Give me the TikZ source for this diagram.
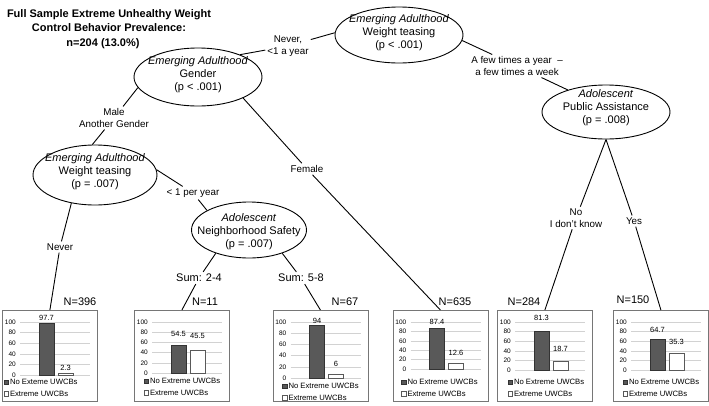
\documentclass[tikz,border=0pt]{standalone}
\usepackage{fontspec}
\setmainfont{Liberation Sans}
\usetikzlibrary{shapes.geometric}
\definecolor{bardark}{RGB}{89,89,89}
\definecolor{boxline}{RGB}{118,118,118}
\definecolor{gridc}{RGB}{210,210,210}
\tikzset{
 ell/.style={draw, ellipse, line width=0.9pt, inner sep=0pt},
 etext/.style={align=center, font=\fontsize{11}{13}\selectfont, inner sep=0pt},
 lbl/.style={align=center, font=\fontsize{9.8}{11.5}\selectfont, inner sep=2pt},
 biglbl/.style={font=\fontsize{11}{13}\selectfont, inner sep=2pt},
 titlestyle/.style={align=center, font=\bfseries\fontsize{11}{14.5}\selectfont, inner sep=0pt},
 conn/.style={line width=0.9pt},
 cbox/.style={draw=boxline, line width=0.8pt, minimum width=95pt, minimum height=91pt, inner sep=0pt},
 gridl/.style={draw=gridc, line width=0.5pt},
 axl/.style={font=\fontsize{6.5}{7}\selectfont, anchor=east, inner sep=0pt},
 vall/.style={font=\fontsize{7.5}{8}\selectfont, inner sep=0pt},
 legt/.style={font=\fontsize{7.7}{9}\selectfont, anchor=west, inner sep=0pt},
 bar1/.style={fill=bardark, draw=black!80, line width=0.6pt},
 bar2/.style={fill=white, draw=bardark, line width=0.6pt},
}
% #1 name, #2 left x, #3 zero-line y, #4 legend y, #5 legend text, #6 legend x offset
\newcommand\mkchart[6]{%
 \begin{scope}[shift={(#2,0)}]
  \node[cbox, anchor=north west] (#1) at (0,310) {};
  \foreach \v in {0,20,...,100}{
    \draw[gridl] (18,{#3-(#3-322)*\v/100}) -- (88,{#3-(#3-322)*\v/100});
    \node[axl] (#1-a\v) at (14,{#3-(#3-322)*\v/100}) {\v};
  }
  \filldraw[fill=bardark, draw=black!80, line width=0.4pt] (#6,#4-2.3) rectangle ++(4.6,4.6);
  \node[legt] (#1-l1) at (#6+5.8,#4) {#5};
  \filldraw[fill=white, draw=bardark, line width=0.4pt] (#6,#4+11.5-2.3) rectangle ++(4.6,4.6);
  \node[legt] (#1-l2) at (#6+5.8,#4+11.5) {Extreme UWCBs};
 \end{scope}}
% #1 name, #2 left x, #3 zero-line y, #4 v1, #5 label1 y, #6 v2, #7 label2 y
\newcommand\mkbars[7]{%
 \begin{scope}[shift={(#2,0)}]
  \filldraw[bar1] (37,#3) rectangle (52,{#3-(#3-322)*#4/100});
  \filldraw[bar2] (56,#3) rectangle (71,{#3-(#3-322)*#6/100});
  \node[vall] (#1-v1) at (44.5,#5) {#4};
  \node[vall] (#1-v2) at (63.5,#7) {#6};
 \end{scope}}
\begin{document}
\begin{tikzpicture}[x=1pt,y=-1pt]
\useasboundingbox (0,0) rectangle (709,405);
% title
\node[titlestyle] (title) at (109,29) {Full Sample Extreme Unhealthy Weight\\Control Behavior Prevalence:\\\mbox{n=204 (13.0\%)\hspace{12pt}}};
% ellipses
\node[ell, minimum width=128pt, minimum height=56pt] (top) at (399,35) {};
\node[etext] (top-t) at (399,33) {\textit{Emerging Adulthood}\\Weight teasing\\(p < .001)};
\node[ell, minimum width=128pt, minimum height=58pt] (gender) at (198,77) {};
\node[etext] (gender-t) at (198,75) {\textit{Emerging Adulthood}\\Gender\\(p < .001)};
\node[ell, minimum width=124pt, minimum height=60pt] (wt2) at (95,175) {};
\node[etext] (wt2-t) at (95,172) {\textit{Emerging Adulthood}\\Weight teasing\\(p = .007)};
\node[ell, minimum width=115pt, minimum height=56pt] (nbh) at (249,230) {};
\node[etext] (nbh-t) at (249,232) {\textit{Adolescent}\\Neighborhood Safety\\(p = .007)};
\node[ell, minimum width=128pt, minimum height=54pt] (pub) at (606,112) {};
\node[etext] (pub-t) at (606,108) {\textit{Adolescent}\\Public Assistance\\(p = .008)};
% charts
\mkchart{b1}{2}{375}{382}{No Exteme UWCBs}{2}
\mkbars{b1}{2}{375}{97.7}{318}{2.3}{368}
\mkchart{b2}{134}{373}{381}{No Extreme UWCBs}{10}
\mkbars{b2}{134}{373}{54.5}{334}{45.5}{336}
\mkchart{b3}{272.5}{378}{386}{No Extreme UWCBs}{10}
\mkbars{b3}{272.5}{378}{94}{321}{6}{364}
\mkchart{b4}{392.5}{369}{382}{No Extreme UWCBs}{9}
\mkbars{b4}{392.5}{369}{87.4}{322}{12.6}{353}
\mkchart{b5}{497}{370}{382}{No Extreme UWCBs}{11}
\mkbars{b5}{497}{370}{81.3}{318}{18.7}{349}
\mkchart{b6}{613}{370}{382}{No Extreme UWCBs}{10}
\mkbars{b6}{613}{370}{64.7}{330}{35.3}{342}
% N labels
\node[biglbl] (n1) at (80,302) {N=396};
\node[biglbl] (n2) at (205,302) {N=11};
\node[biglbl] (n3) at (345,302) {N=67};
\node[biglbl] (n4) at (455,302) {N=635};
\node[biglbl] (n5) at (524,302) {N=284};
\node[biglbl] (n6) at (633,300) {N=150};
% edge labels
\node[lbl] (l1) at (288,46) {Never,\\<1 a year};
\node[lbl] (l2) at (517,66) {A few times a year~~–\\a few times a week};
\node[lbl] (l3) at (114,118) {Male\\Another Gender};
\node[lbl] (l4) at (307,169) {Female};
\node[lbl] (l5) at (60,247) {Never};
\node[lbl] (l6) at (193,193) {< 1 per year};
\node[biglbl] (l7) at (199,278) {Sum: 2-4};
\node[biglbl] (l8) at (301,278) {Sum: 5-8};
\node[lbl] (l9) at (576,218) {No\\I don't know};
\node[lbl] (l10) at (634,221) {Yes};
% connectors
\draw[conn] (gender.28) -- (l1) -- (top.178);
\draw[conn] (top.-5) -- (l2) -- (pub.150);
\draw[conn] (gender.190) -- (l3) -- (wt2.95);
\draw[conn] (gender.-25) -- (l4) -- (b4.north);
\draw[conn] (wt2.-130) -- (l5) -- (b1.north);
\draw[conn] (wt2.5) -- (l6) -- (nbh.155);
\draw[conn] (nbh.-145) -- (l7) -- (b2.north);
\draw[conn] (nbh.-35) -- (l8) -- (b3.north);
\draw[conn] (pub.south) -- (l9) -- (b5.north);
\draw[conn] (pub.south) -- (l10) -- (b6.north);
\end{tikzpicture}
\end{document}
